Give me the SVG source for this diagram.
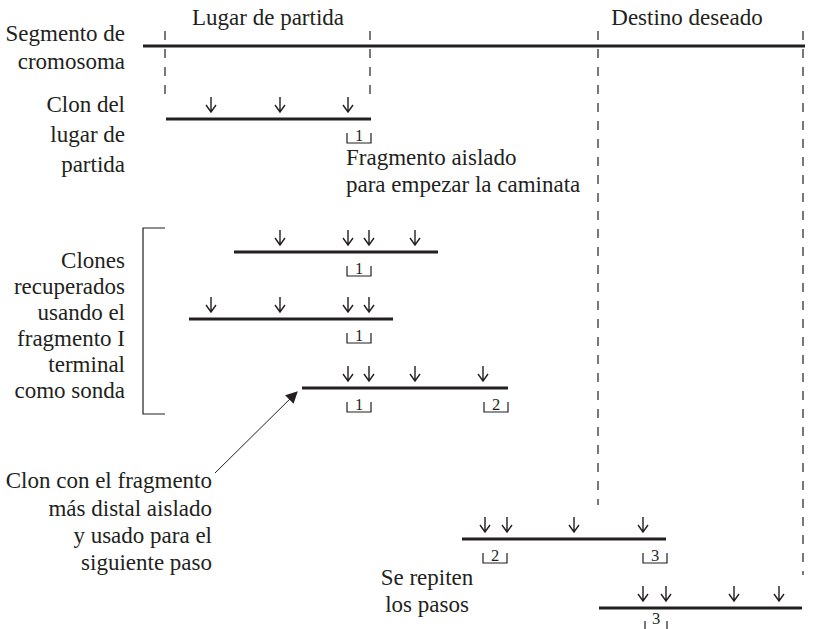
<svg xmlns="http://www.w3.org/2000/svg" width="819" height="629" viewBox="0 0 819 629">
<defs>
<style>
text{font-family:"Liberation Serif","Times New Roman","DejaVu Serif",serif;font-size:23px;fill:#231f20}
.r{text-anchor:end}
.m{text-anchor:middle}
.n{font-size:16.5px;text-anchor:middle}
.thick{stroke:#231f20;stroke-width:3;fill:none}
.dash{stroke:#231f20;stroke-width:1.2;stroke-dasharray:9 9;fill:none}
.thin{stroke:#231f20;stroke-width:1.2;fill:none}
.cut{stroke:#231f20;stroke-width:1.4;fill:none}
</style>
<path id="ar" d="M0,-22 V-7 M-5,-14 L0,-7 L5,-14" class="cut"/>
<marker id="ah" viewBox="0 0 10 10" refX="9" refY="5" markerWidth="12" markerHeight="12" markerUnits="userSpaceOnUse" orient="auto">
<path d="M0,0 L10,5 L0,10 Z" fill="#231f20"/>
</marker>
</defs>
<rect width="819" height="629" fill="#fff"/>

<g id="chromosome">
<text x="125" y="41" class="r">Segmento de</text>
<text x="125" y="69" class="r">cromosoma</text>
<text x="268" y="25" class="m">Lugar de partida</text>
<text x="687" y="25" class="m">Destino deseado</text>
<line x1="143" y1="46" x2="805" y2="46" class="thick"/>
</g>

<g id="guides">
<line x1="165" y1="31" x2="165" y2="100" class="dash"/>
<line x1="370" y1="31" x2="370" y2="100" class="dash"/>
<line x1="598" y1="31" x2="598" y2="505" class="dash"/>
<line x1="803" y1="31" x2="803" y2="575" class="dash"/>
</g>

<g id="clone1">
<text x="125" y="112" class="r">Clon del</text>
<text x="125" y="142" class="r">lugar de</text>
<text x="125" y="172" class="r">partida</text>
<line x1="166" y1="119" x2="371" y2="119" class="thick"/>
<use href="#ar" x="211" y="119"/><use href="#ar" x="280" y="119"/><use href="#ar" x="348" y="119"/>
<path d="M347,133 V143 H371 V133" class="thin"/><text x="359" y="141" class="n">1</text>
<text x="346" y="165">Fragmento aislado</text>
<text x="346" y="192">para empezar la caminata</text>
</g>

<g id="recovered">
<text x="125" y="268" class="r">Clones</text>
<text x="125" y="294" class="r">recuperados</text>
<text x="125" y="320" class="r">usando el</text>
<text x="125" y="346" class="r">fragmento I</text>
<text x="125" y="372" class="r">terminal</text>
<text x="125" y="398" class="r">como sonda</text>
<path d="M165,228 H143 V414 H165" class="thin"/>
</g>

<g id="clone2">
<line x1="234" y1="252" x2="438" y2="252" class="thick"/>
<use href="#ar" x="280" y="252"/><use href="#ar" x="348" y="252"/><use href="#ar" x="369" y="252"/><use href="#ar" x="415" y="252"/>
<path d="M347,266 V276 H371 V266" class="thin"/><text x="359" y="274" class="n">1</text>
</g>

<g id="clone3">
<line x1="189" y1="319" x2="393" y2="319" class="thick"/>
<use href="#ar" x="211" y="319"/><use href="#ar" x="280" y="319"/><use href="#ar" x="348" y="319"/><use href="#ar" x="369" y="319"/>
<path d="M347,333 V343 H371 V333" class="thin"/><text x="359" y="341" class="n">1</text>
</g>

<g id="clone4">
<line x1="302" y1="388" x2="508" y2="388" class="thick"/>
<use href="#ar" x="348" y="388"/><use href="#ar" x="369" y="388"/><use href="#ar" x="415" y="388"/><use href="#ar" x="483" y="388"/>
<path d="M347,402 V412 H371 V402" class="thin"/><text x="359" y="410" class="n">1</text>
<path d="M484,402 V412 H508 V402" class="thin"/><text x="496" y="410" class="n">2</text>
</g>

<g id="distal-label">
<text x="212" y="488" class="r">Clon con el fragmento</text>
<text x="212" y="516" class="r">más distal aislado</text>
<text x="212" y="543" class="r">y usado para el</text>
<text x="212" y="570" class="r">siguiente paso</text>
</g>

<g id="clone5">
<line x1="462" y1="539" x2="666" y2="539" class="thick"/>
<use href="#ar" x="485" y="539"/><use href="#ar" x="507" y="539"/><use href="#ar" x="574" y="539"/><use href="#ar" x="643" y="539"/>
<path d="M483,553 V563 H507 V553" class="thin"/><text x="495" y="561" class="n">2</text>
<path d="M643,553 V563 H667 V553" class="thin"/><text x="655" y="561" class="n">3</text>
</g>

<g id="repeat-label">
<text x="427" y="585" class="m">Se repiten</text>
<text x="427" y="612" class="m">los pasos</text>
</g>

<g id="clone6">
<line x1="599" y1="608" x2="802" y2="608" class="thick"/>
<use href="#ar" x="643" y="608"/><use href="#ar" x="666" y="608"/><use href="#ar" x="734" y="608"/><use href="#ar" x="779" y="608"/>
<path d="M645,621 V631 H667 V621" class="thin"/><text x="656" y="624" class="n">3</text>
</g>

<g id="connectors">
<line x1="215" y1="473" x2="297" y2="392" stroke="#231f20" stroke-width="1" marker-end="url(#ah)"/>
</g>
</svg>
